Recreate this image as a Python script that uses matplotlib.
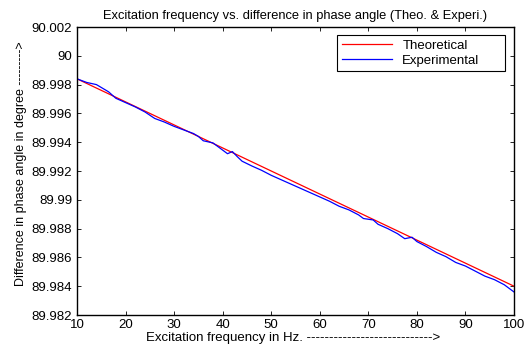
import numpy as np
import matplotlib.pyplot as plt

plt.rcParams['font.family'] = ['Liberation Sans', 'DejaVu Sans']
plt.rcParams['font.size'] = 9.5

# theoretical curve, read every 5 Hz
freq_theo = [10, 15, 20, 25, 30, 35, 40, 45, 50, 55, 60, 65, 70, 75, 80, 85, 90, 95, 100]
phase_theo = [89.9984, 89.9976, 89.9968, 89.9960, 89.9952, 89.9944, 89.9936, 89.9928,
              89.9920, 89.9912, 89.9904, 89.9896, 89.9888, 89.9880, 89.9872, 89.9864,
              89.9856, 89.9848, 89.9840]

# experimental curve (wobbly)
freq_exp = [10, 12, 14, 15, 16.5, 18, 20, 22, 24, 26, 28, 30, 32, 34, 35, 36, 38, 40, 41,
            42, 43, 44, 46, 48, 50, 52, 54, 56, 58, 60, 62, 64, 66, 68, 69, 70, 71, 72,
            74, 76, 77.5, 79, 80, 82, 84, 86, 88, 90, 92, 94, 96, 98, 100]
phase_exp = [89.9984, 89.99815, 89.9980, 89.9978, 89.9975, 89.99705, 89.99675, 89.99645,
             89.9961, 89.99565, 89.9954, 89.9951, 89.99485, 89.9946, 89.9944, 89.9941,
             89.99395, 89.99345, 89.9932, 89.99335, 89.9930, 89.99268, 89.99235, 89.99205,
             89.9917, 89.9914, 89.9911, 89.9908, 89.9905, 89.9902, 89.9899, 89.98955,
             89.9893, 89.98895, 89.9887, 89.98865, 89.9886, 89.9883, 89.9880, 89.98765,
             89.9873, 89.9874, 89.9871, 89.98675, 89.98635, 89.98605, 89.98565, 89.9854,
             89.98505, 89.9847, 89.98445, 89.9841, 89.9836]

ytick_vals = [89.982, 89.984, 89.986, 89.988, 89.99, 89.992, 89.994, 89.996, 89.998, 90, 90.002]
ytick_labels = ['89.982', '89.984', '89.986', '89.988', '89.99', '89.992', '89.994',
                '89.996', '89.998', '90', '90.002']

fig = plt.figure(figsize=(5.26, 3.44), dpi=100)
ax = fig.add_axes([77/526, 1 - 315/344, 437/526, 288/344])

ax.plot(freq_theo, phase_theo, color='red', lw=0.9, label='Theoretical')
ax.plot(freq_exp, phase_exp, color='blue', lw=0.9, label='Experimental')

ax.set_xlim(10, 100)
ax.set_ylim(89.982, 90.002)
ax.set_xticks(np.arange(10, 101, 10))
ax.set_yticks(ytick_vals)
ax.set_yticklabels(ytick_labels)
ax.tick_params(direction='in', top=True, right=True, length=3, width=0.6)
ax.tick_params(axis='y', pad=3.5)
ax.tick_params(axis='x', pad=3)
for s in ax.spines.values():
    s.set_linewidth(1.0)

ax.set_title('Excitation frequency vs. difference in phase angle (Theo. & Experi.)',
             fontsize=9.3, pad=6)
ax.set_xlabel('Excitation frequency in Hz. ' + '-' * 28 + '>', va='top')
ax.xaxis.set_label_coords(0.495, -0.058)
ax.set_ylabel('Difference in phase angle in degree ' + '-' * 9 + '>', fontsize=9)
ax.yaxis.set_label_coords(-0.114, 0.526)

leg = ax.legend(loc='upper left', bbox_to_anchor=(260/437, 1 - 8/288, 168/437, 0.0),
                mode='expand', fancybox=False,
                edgecolor='black', framealpha=1, borderaxespad=0, handlelength=3.8,
                handletextpad=0.8, labelspacing=0.2, borderpad=0.35)
leg.get_frame().set_linewidth(0.8)

fig.savefig('out.png', dpi=100)
